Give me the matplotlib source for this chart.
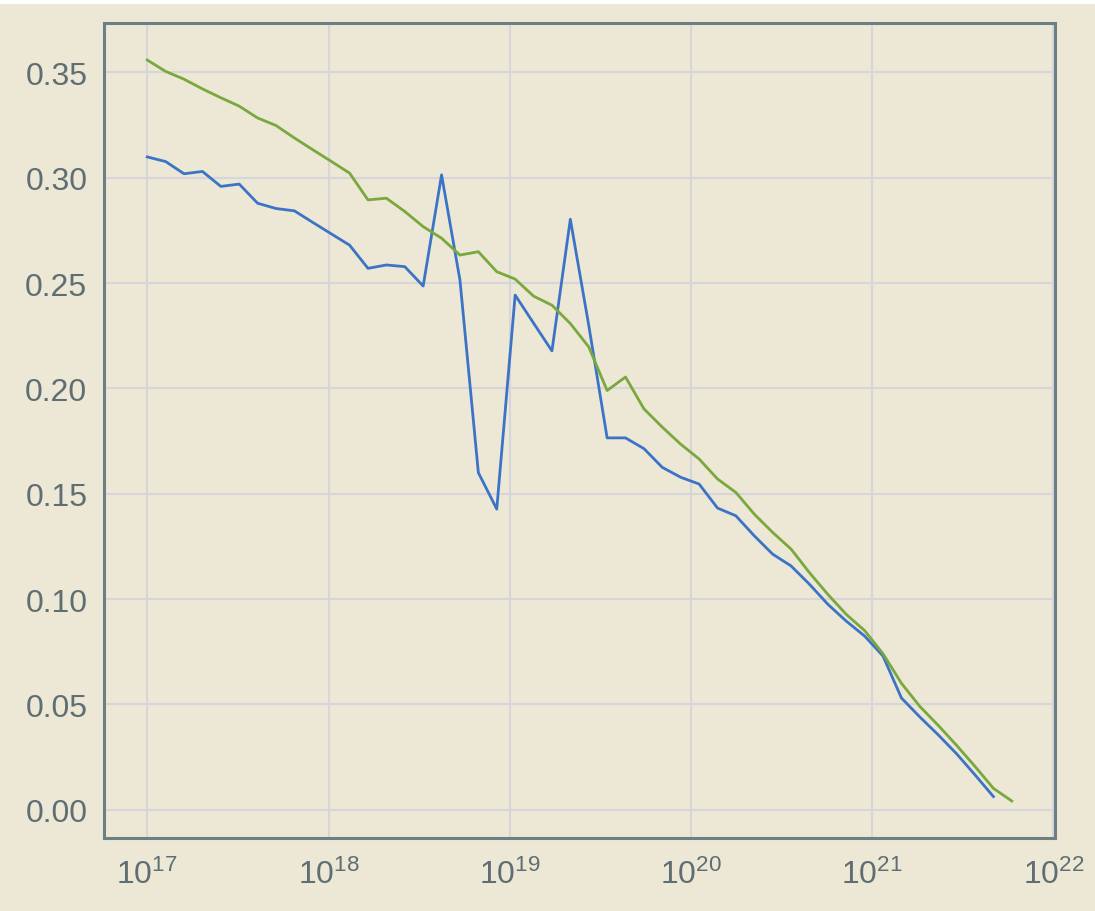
import numpy as np
import matplotlib
matplotlib.use("Agg")
import matplotlib.pyplot as plt
from matplotlib.patches import Rectangle

# Sample grid (log10 of x) for the two series
green_log_x = np.linspace(17.0, 21.77, 48)
blue_log_x = green_log_x[:47]

blue_values = [
    0.3099, 0.3077, 0.3019, 0.3030, 0.2959, 0.2970, 0.2879, 0.2854, 0.2843, 0.2788,
    0.2734, 0.2680, 0.2570, 0.2586, 0.2578, 0.2486, 0.3014, 0.2514, 0.1600, 0.1427,
    0.2443, 0.2310, 0.2178, 0.2803, 0.2300, 0.1765, 0.1765, 0.1714, 0.1625, 0.1578,
    0.1546, 0.1432, 0.1395, 0.1300, 0.1213, 0.1157, 0.1070, 0.0975, 0.0895, 0.0824,
    0.0729, 0.0530, 0.0440, 0.0355, 0.0265, 0.0165, 0.0062,
]

green_values = [
    0.3559, 0.3505, 0.3468, 0.3422, 0.3380, 0.3340, 0.3284, 0.3248, 0.3189, 0.3133,
    0.3078, 0.3022, 0.2895, 0.2903, 0.2840, 0.2768, 0.2713, 0.2633, 0.2649, 0.2554,
    0.2519, 0.2438, 0.2395, 0.2308, 0.2197, 0.1990, 0.2054, 0.1903, 0.1816, 0.1735,
    0.1665, 0.1570, 0.1506, 0.1403, 0.1316, 0.1237, 0.1125, 0.1022, 0.0927, 0.0850,
    0.0740, 0.0600, 0.0490, 0.0400, 0.0305, 0.0205, 0.0101, 0.0041,
]

y_ticks = [0.00, 0.05, 0.10, 0.15, 0.20, 0.25, 0.30, 0.35]

BG = "#EDE7D6"
SPINE = "#6C7F84"
TEXT = "#5E6E72"
GRID = "#D6D6DA"

plt.rcParams["font.family"] = ["Liberation Sans", "DejaVu Sans"]
plt.rcParams["mathtext.default"] = "regular"

fig = plt.figure(figsize=(10.95, 9.12), dpi=100, facecolor=BG)
ax = fig.add_axes([0.095, 0.080, 0.8685, 0.8937])
ax.set_facecolor(BG)

ax.plot(10 ** blue_log_x, blue_values, color="#3B74C6", lw=2.0, solid_joinstyle="round")
ax.plot(10 ** green_log_x, green_values, color="#79A83C", lw=2.0, solid_joinstyle="round")

ax.set_xscale("log")
ax.set_yticks(y_ticks)
ax.set_yticklabels([f"{v:.2f}" for v in y_ticks])
ax.minorticks_off()
ax.grid(True, color=GRID, lw=1.5)
ax.set_axisbelow(True)

ax.tick_params(axis="both", length=0, labelsize=23, colors=TEXT)
ax.tick_params(axis="y", pad=12)
ax.tick_params(axis="x", pad=15)
for s in ax.spines.values():
    s.set_color(SPINE)
    s.set_linewidth(2.2)

# thin white strip along the top edge of the canvas
fig.patches.append(Rectangle((0, 1 - 5 / 912), 1, 5 / 912, transform=fig.transFigure,
                             facecolor="white", edgecolor="none", zorder=10))

fig.savefig("out.png", dpi=100, facecolor=BG)
